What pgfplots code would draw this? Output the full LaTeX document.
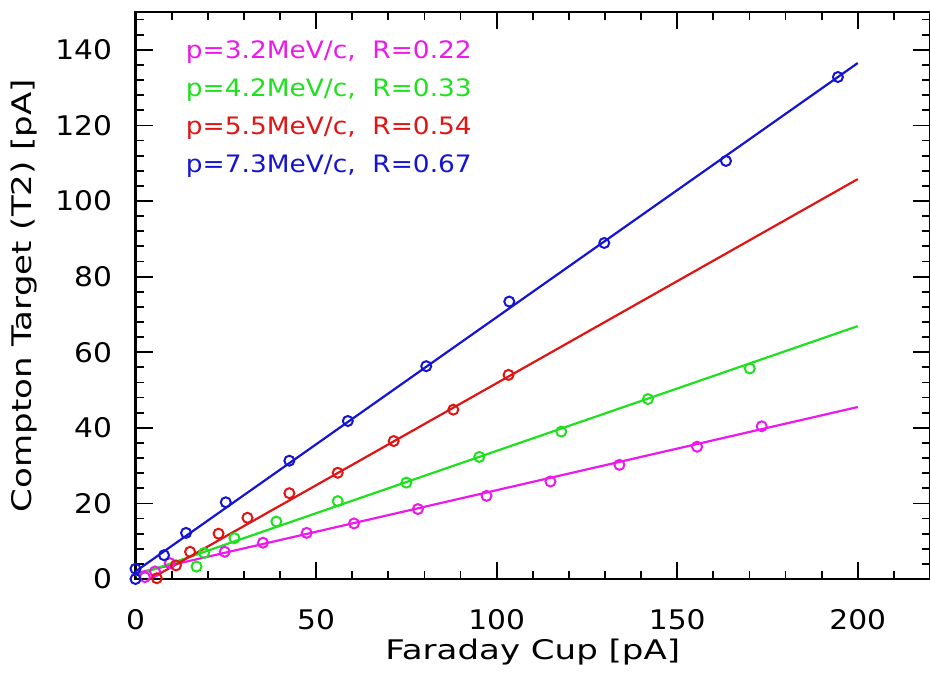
\documentclass[border=0pt]{standalone}
\usepackage{pgfplots}
\pgfplotsset{compat=1.18}
\usepackage{fontspec}
\setmainfont{DejaVu Sans}[FakeStretch=1.1]
\newfontfamily\labfont{DejaVu Sans}[FakeStretch=1.26]
\usetikzlibrary{calc}
\definecolor{cmag}{RGB}{235,25,235}
\definecolor{cgreen}{RGB}{30,225,30}
\definecolor{cred}{RGB}{225,20,20}
\definecolor{cblue}{RGB}{20,20,210}
\begin{document}
\begin{tikzpicture}[font=\fontsize{27}{32}\selectfont]
\begin{axis}[
  name=ax, scale only axis, width=794.5pt, height=567pt,
  xmin=0, xmax=220, ymin=0, ymax=150,
  xtick={0,50,...,200}, minor xtick={0,10,...,220},
  ytick={0,20,...,140}, minor ytick={0,4,...,148},
  major tick length=17pt, minor tick length=8pt,
  tick style={black, line width=1.8pt},
  axis line style={line width=2.4pt},
  /pgf/number format/assume math mode=true,
  xticklabel shift=27pt,
  yticklabel shift=20pt,
  xlabel={\labfont Faraday Cup [pA]},
  ylabel={\labfont Compton Target (T2) [pA]},
  xlabel style={at={(axis description cs:0.5,0)}, anchor=center, yshift=-73pt},
  ylabel style={at={(axis description cs:-0.140,0.5)}, anchor=center},
  clip=true,
]
% magenta R=0.22
\addplot[cmag, only marks, mark=o, mark size=5pt, mark options={line width=2pt}] coordinates {
(2.6,0.5) (5.4,2.0) (9.5,4.2) (24.7,7.2) (35.3,9.6) (47.4,12.2) (60.5,14.7) (78.2,18.5)
(97.2,22.0) (114.9,25.8) (134.0,30.2) (155.5,35.0) (173.4,40.4)};
\addplot[cmag, line width=2.2pt] coordinates {(0,1.5) (200,45.5)};
% green R=0.33
\addplot[cgreen, only marks, mark=o, mark size=5pt, mark options={line width=2pt}] coordinates {
(16.9,3.3) (19.0,6.9) (27.4,10.8) (39.0,15.2) (56.0,20.6) (75.0,25.5) (95.2,32.3)
(117.9,39.0) (141.9,47.6) (170.1,55.7)};
\addplot[cgreen, line width=2.2pt] coordinates {(0,0.9) (200,66.9)};
% red R=0.54
\addplot[cred, only marks, mark=o, mark size=5pt, mark options={line width=2pt}] coordinates {
(5.9,0.2) (11.2,3.6) (15.1,7.2) (23.0,12.0) (31.0,16.2) (42.6,22.7) (56.0,28.1)
(71.5,36.5) (88.0,44.8) (103.3,54.0)};
\addplot[cred, line width=2.2pt] coordinates {(0,-2.2) (200,105.8)};
% blue R=0.67
\addplot[cblue, only marks, mark=o, mark size=5pt, mark options={line width=2pt}] coordinates {
(0,0) (0,2.7) (7.9,6.3) (14.0,12.2) (25.0,20.3) (42.6,31.3) (58.8,41.8) (80.5,56.3)
(103.5,73.4) (129.8,88.9) (163.5,110.6) (194.5,132.8)};
\addplot[cblue, line width=2.2pt] coordinates {(0,2) (200,136.5)};
\node[anchor=base west, text=cmag, font=\fontsize{24}{28}\selectfont] at (axis cs:13,137.6) {p=3.2MeV/c,\ \ R=0.22};
\node[anchor=base west, text=cgreen, font=\fontsize{24}{28}\selectfont] at (axis cs:13,127.6) {p=4.2MeV/c,\ \ R=0.33};
\node[anchor=base west, text=cred, font=\fontsize{24}{28}\selectfont] at (axis cs:13,117.6) {p=5.5MeV/c,\ \ R=0.54};
\node[anchor=base west, text=cblue, font=\fontsize{24}{28}\selectfont] at (axis cs:13,107.6) {p=7.3MeV/c,\ \ R=0.67};
\end{axis}
\pgfresetboundingbox
\path[use as bounding box] ($(ax.south west)+(-135.5pt,-94pt)$) rectangle ($(ax.north east)+(0pt,12pt)$);
\end{tikzpicture}
\end{document}
